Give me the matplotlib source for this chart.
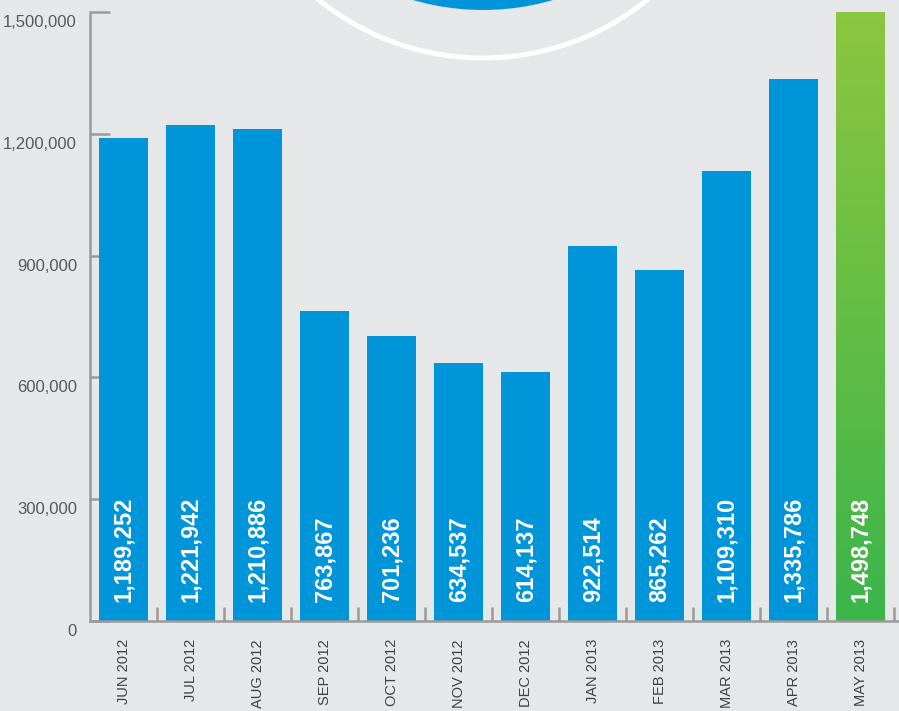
"""Monthly totals bar chart, Jun 2012 - May 2013."""

import matplotlib
matplotlib.use("Agg")
import matplotlib.pyplot as plt
import matplotlib.transforms as mtransforms
import numpy as np
from matplotlib.colors import LinearSegmentedColormap
from matplotlib.patches import Circle

months = ["JUN 2012", "JUL 2012", "AUG 2012", "SEP 2012", "OCT 2012", "NOV 2012",
          "DEC 2012", "JAN 2013", "FEB 2013", "MAR 2013", "APR 2013", "MAY 2013"]
values = [1189252, 1221942, 1210886, 763867, 701236, 634537,
          614137, 922514, 865262, 1109310, 1335786, 1498748]
y_ticks = [0, 300000, 600000, 900000, 1200000, 1500000]

BG = "#e6e7e8"
BLUE = "#0095d9"
AXIS = "#9a9a9a"

plt.rcParams["font.family"] = ["Liberation Sans", "DejaVu Sans"]

fig = plt.figure(figsize=(8.99, 7.11), dpi=100, facecolor=BG)
ax = fig.add_axes([90 / 899, 90 / 711, 809 / 899, 609 / 711])
ax.set_facecolor(BG)

# decorative circle peeking in at the top
fig.patches.append(Circle((4.83, 9.51), 2.50, transform=fig.dpi_scale_trans,
                          facecolor=BLUE, edgecolor="none", zorder=0))
fig.patches.append(Circle((4.83, 9.14), 2.61, transform=fig.dpi_scale_trans,
                          facecolor="none", edgecolor="white", lw=3.6, zorder=0))

x = np.arange(len(months))
width = 0.731
bars = ax.bar(x[:-1], values[:-1], width=width, color=BLUE, zorder=2)

# gradient for the last (current) month
green = LinearSegmentedColormap.from_list("g", ["#3bb54a", "#8dc63f"])
grad = np.linspace(0, 1, 256).reshape(-1, 1)
ax.imshow(grad, cmap=green, origin="lower", aspect="auto", zorder=2,
          extent=[x[-1] - width / 2, x[-1] + width / 2, 0, values[-1]])

for xi, v in zip(x, values):
    ax.annotate(f"{v:,}", xy=(xi, 0), xytext=(0, 14), textcoords="offset points",
                rotation=90, ha="center", va="bottom", color="white",
                fontsize=17, fontweight="bold", zorder=3)

ax.set_xlim(-0.5, 11.57)
ax.set_ylim(0, 1500000)

for side in ["top", "right"]:
    ax.spines[side].set_visible(False)
for side in ["left", "bottom"]:
    ax.spines[side].set_color(AXIS)
    ax.spines[side].set_linewidth(1.8)

ax.set_yticks(y_ticks)
ax.set_yticklabels([f"{t:,}" for t in y_ticks])
ax.tick_params(axis="y", direction="in", length=14.4, width=1.8, color=AXIS,
               pad=9.4, labelsize=12, labelcolor="#58595b")
offset = mtransforms.ScaledTranslation(0, -0.09, fig.dpi_scale_trans)
for lab in ax.get_yticklabels():
    lab.set_transform(lab.get_transform() + offset)

ax.set_xticks(x)
ax.set_xticklabels(months, rotation=90, va="top")
ax.tick_params(axis="x", which="major", length=0, pad=13, labelsize=10.5,
               labelcolor="#414042")
ax.set_xticks(x + 0.5, minor=True)
ax.tick_params(axis="x", which="minor", direction="in", length=10, width=1.8,
               color=AXIS)

fig.savefig("out.png", dpi=100, facecolor=BG)
